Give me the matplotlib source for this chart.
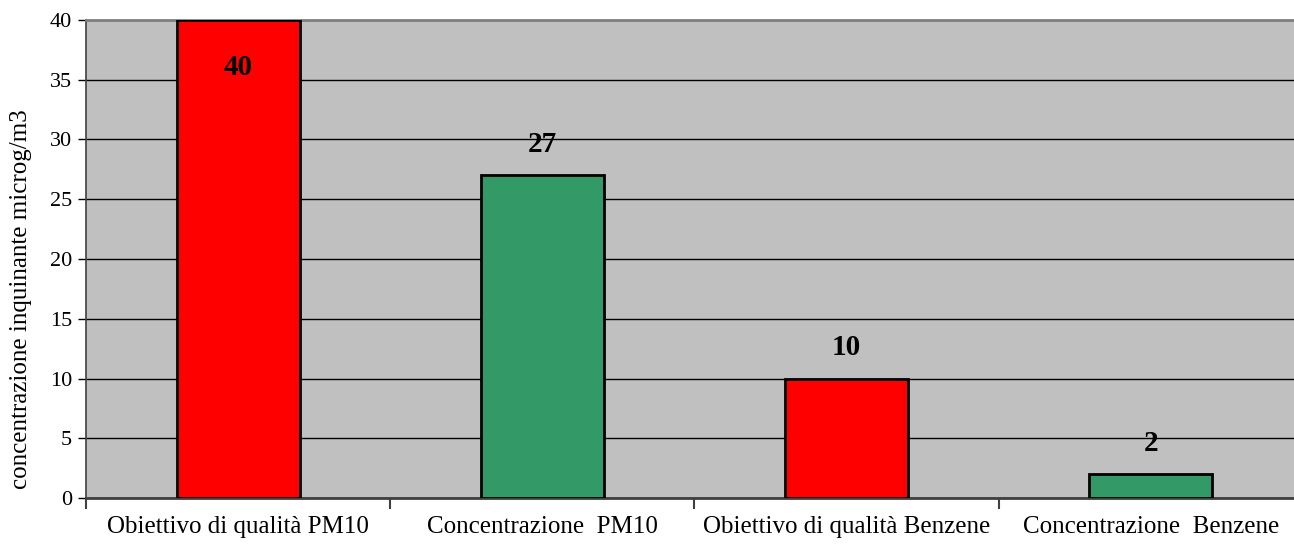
import matplotlib.pyplot as plt
from matplotlib.ticker import FixedLocator

categorie = ["Obiettivo di qualità PM10", "Concentrazione  PM10",
             "Obiettivo di qualità Benzene", "Concentrazione  Benzene"]
valori = [40, 27, 10, 2]
colori = ["#FF0000", "#339966", "#FF0000", "#339966"]

plt.rcParams['font.family'] = ['Liberation Serif', 'DejaVu Serif']

fig = plt.figure(figsize=(12.94, 5.47), dpi=100)
# l'area del grafico continua oltre il bordo destro dell'immagine
ax = fig.add_axes([86 / 1294, 49 / 547, 1217 / 1294, 478 / 547])
ax.set_facecolor("#C0C0C0")

x = list(range(len(valori)))
ax.bar(x, valori, width=0.405, color=colori, edgecolor="black", linewidth=2, zorder=3)

for xi, v in zip(x, valori):
    dy = -34 if v == max(valori) else 22
    ax.annotate(str(v), (xi, v), xytext=(0, dy), textcoords="offset points",
                ha="center", va="center", fontsize=21, fontweight="bold", zorder=4)

ax.set_xlim(-0.5, 3.5)
ax.set_ylim(0, 40)
ax.set_yticks(range(0, 41, 5))
ax.yaxis.grid(True, color="black", linewidth=1, zorder=1)
ax.set_axisbelow(True)

ax.set_xticks(x)
ax.set_xticklabels(categorie, fontsize=18)
ax.tick_params(axis="x", which="major", length=0, pad=13)
ax.xaxis.set_minor_locator(FixedLocator([-0.5, 0.5, 1.5, 2.5, 3.5]))
ax.tick_params(axis="x", which="minor", length=8, width=1.5, color="#404040")
ax.tick_params(axis="y", labelsize=16, length=6, width=1, color="black", pad=4)

ax.set_ylabel("concentrazione inquinante microg/m3", fontsize=18)
ax.yaxis.set_label_coords(-0.044, 0.417)

ax.spines["right"].set_visible(False)
ax.spines["top"].set_color("#808080")
ax.spines["top"].set_linewidth(2)
ax.spines["bottom"].set_color("#404040")
ax.spines["bottom"].set_linewidth(2)
ax.spines["left"].set_color("#404040")
ax.spines["left"].set_linewidth(1.2)

fig.savefig("out.png", dpi=100)
